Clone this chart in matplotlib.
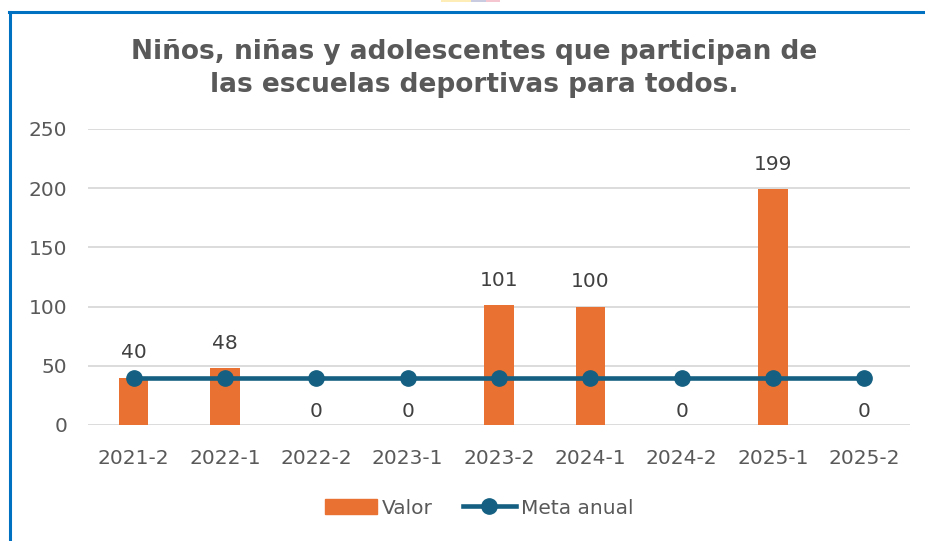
import matplotlib.pyplot as plt
import numpy as np
from matplotlib.lines import Line2D
from matplotlib.patches import Patch, Rectangle

periods = ["2021-2", "2022-1", "2022-2", "2023-1", "2023-2", "2024-1", "2024-2", "2025-1", "2025-2"]
valor = [40, 48, 0, 0, 101, 100, 0, 199, 0]
meta_anual = [40, 40, 40, 40, 40, 40, 40, 40, 40]
y_ticks = [0, 50, 100, 150, 200, 250]

title = "Niños, niñas y adolescentes que participan de\nlas escuelas deportivas para todos."

BAR = "#E97132"
LINE = "#156082"
TEXT = "#595959"
GRID = "#D9D9D9"
BORDER = "#0070C0"

W, H = 925, 541
fig = plt.figure(figsize=(W / 100, H / 100), dpi=100)
ax = fig.add_axes([88 / W, 1 - 425 / H, (910 - 88) / W, (425 - 129) / H])

x = np.arange(len(periods))
ax.bar(x, valor, width=0.32, color=BAR, zorder=2)
ax.plot(x, meta_anual, color=LINE, lw=3.3, marker="o", ms=11, zorder=3)

for xi, v in zip(x, valor):
    off = 18 if v else 9.5
    ax.annotate(str(v), (xi, v), xytext=(0, off), textcoords="offset points",
                ha="center", va="center", fontsize=14.5, color="#404040")

ax.set_xlim(-0.5, len(periods) - 0.5)
ax.set_ylim(0, 250)
ax.set_yticks(y_ticks)
ax.set_xticks(x)
ax.set_xticklabels(periods)
ax.tick_params(axis="both", length=0, labelsize=14.5, labelcolor=TEXT)
ax.tick_params(axis="x", pad=17)
ax.tick_params(axis="y", pad=15)
ax.grid(axis="y", color=GRID, lw=1.3, zorder=0)
ax.set_axisbelow(True)
for s in ax.spines.values():
    s.set_visible(False)

fig.text(474 / W, 1 - 68.5 / H, title, ha="center", va="center", fontsize=19,
         fontweight="bold", color=TEXT, family="DejaVu Sans", linespacing=1.35)

handles = [Patch(color=BAR), Line2D([], [], color=LINE, lw=3.3, marker="o", ms=11)]
fig.legend(handles, ["Valor", "Meta anual"], loc="center", bbox_to_anchor=(479 / W, 1 - 508 / H),
           ncol=2, frameon=False, fontsize=14.5, labelcolor=TEXT, handlelength=2.6,
           handletextpad=0.25, columnspacing=1.5, handleheight=0.7)

# border of the card
fig.add_artist(Line2D([10 / W, 10 / W], [0, 1 - 11.5 / H], color=BORDER, lw=2.2))
fig.add_artist(Line2D([9 / W, 1], [1 - 11.5 / H, 1 - 11.5 / H], color=BORDER, lw=2.2))
# small coloured strip at the top edge
for x0, x1, c in [(441, 471, "#FFEDB8"), (471, 486, "#C9CCE0"), (486, 500, "#F5C6D0")]:
    fig.add_artist(Rectangle((x0 / W, 1 - 2 / H), (x1 - x0) / W, 2 / H, color=c, lw=0))

fig.savefig("out.png", dpi=100)
